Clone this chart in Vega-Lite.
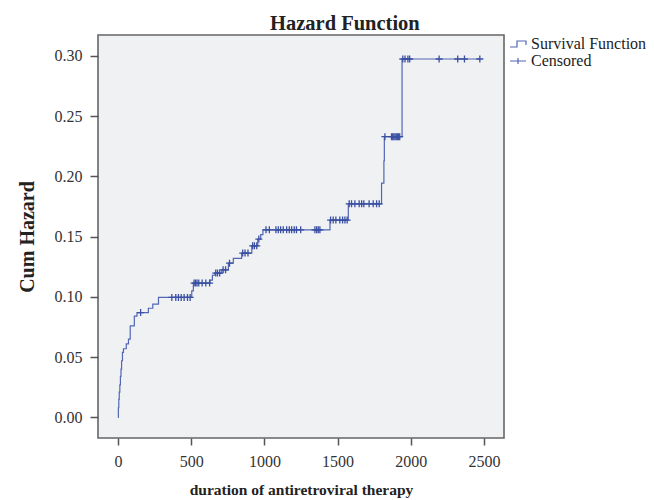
{
  "$schema": "https://vega.github.io/schema/vega-lite/v6.json",
  "width": 406,
  "height": 403,
  "autosize": "none",
  "padding": {"left": 98, "top": 35, "right": 150, "bottom": 62},
  "background": "white",
  "title": {
    "text": "Hazard Function",
    "font": "Liberation Serif",
    "fontSize": 20.5,
    "fontWeight": "bold",
    "color": "#222222",
    "anchor": "start",
    "frame": "group",
    "dx": 172,
    "offset": 6,
    "dy": 21,
    "baseline": "alphabetic"
  },
  "datasets": {
    "curve": [
      {"t": 0, "H": 0},
      {"t": 3, "H": 0.008},
      {"t": 6, "H": 0.015},
      {"t": 9, "H": 0.021},
      {"t": 13, "H": 0.027},
      {"t": 17, "H": 0.034},
      {"t": 21, "H": 0.040},
      {"t": 25, "H": 0.047},
      {"t": 31, "H": 0.054},
      {"t": 38, "H": 0.057},
      {"t": 57, "H": 0.061},
      {"t": 72, "H": 0.065},
      {"t": 84, "H": 0.076},
      {"t": 112, "H": 0.084},
      {"t": 130, "H": 0.087},
      {"t": 208, "H": 0.0906},
      {"t": 238, "H": 0.094},
      {"t": 277, "H": 0.0996},
      {"t": 504, "H": 0.105},
      {"t": 515, "H": 0.1115},
      {"t": 629, "H": 0.114},
      {"t": 645, "H": 0.118},
      {"t": 662, "H": 0.1198},
      {"t": 709, "H": 0.1225},
      {"t": 754, "H": 0.128},
      {"t": 788, "H": 0.132},
      {"t": 845, "H": 0.1364},
      {"t": 914, "H": 0.1424},
      {"t": 955, "H": 0.148},
      {"t": 975, "H": 0.1517},
      {"t": 990, "H": 0.1557},
      {"t": 1448, "H": 0.1638},
      {"t": 1573, "H": 0.1773},
      {"t": 1800, "H": 0.1944},
      {"t": 1816, "H": 0.213},
      {"t": 1819, "H": 0.233},
      {"t": 1940, "H": 0.2975},
      {"t": 2471, "H": 0.2975}
    ],
    "cens": [
      {"t": 155, "H": 0.087},
      {"t": 368, "H": 0.0996},
      {"t": 395, "H": 0.0996},
      {"t": 413, "H": 0.0996},
      {"t": 432, "H": 0.0996},
      {"t": 452, "H": 0.0996},
      {"t": 475, "H": 0.0996},
      {"t": 493, "H": 0.0996},
      {"t": 520, "H": 0.1115},
      {"t": 530, "H": 0.1115},
      {"t": 540, "H": 0.1115},
      {"t": 552, "H": 0.1115},
      {"t": 575, "H": 0.1115},
      {"t": 600, "H": 0.1115},
      {"t": 626, "H": 0.1115},
      {"t": 668, "H": 0.1198},
      {"t": 680, "H": 0.1198},
      {"t": 695, "H": 0.1198},
      {"t": 718, "H": 0.1225},
      {"t": 735, "H": 0.1225},
      {"t": 762, "H": 0.128},
      {"t": 852, "H": 0.1364},
      {"t": 868, "H": 0.1364},
      {"t": 888, "H": 0.1364},
      {"t": 920, "H": 0.1424},
      {"t": 932, "H": 0.1424},
      {"t": 948, "H": 0.1424},
      {"t": 962, "H": 0.148},
      {"t": 1011, "H": 0.1557},
      {"t": 1034, "H": 0.1557},
      {"t": 1079, "H": 0.1557},
      {"t": 1095, "H": 0.1557},
      {"t": 1111, "H": 0.1557},
      {"t": 1129, "H": 0.1557},
      {"t": 1152, "H": 0.1557},
      {"t": 1170, "H": 0.1557},
      {"t": 1186, "H": 0.1557},
      {"t": 1204, "H": 0.1557},
      {"t": 1219, "H": 0.1557},
      {"t": 1248, "H": 0.1557},
      {"t": 1345, "H": 0.1557},
      {"t": 1357, "H": 0.1557},
      {"t": 1368, "H": 0.1557},
      {"t": 1379, "H": 0.1557},
      {"t": 1452, "H": 0.1638},
      {"t": 1470, "H": 0.1638},
      {"t": 1488, "H": 0.1638},
      {"t": 1515, "H": 0.1638},
      {"t": 1534, "H": 0.1638},
      {"t": 1550, "H": 0.1638},
      {"t": 1565, "H": 0.1638},
      {"t": 1579, "H": 0.1773},
      {"t": 1595, "H": 0.1773},
      {"t": 1618, "H": 0.1773},
      {"t": 1647, "H": 0.1773},
      {"t": 1664, "H": 0.1773},
      {"t": 1679, "H": 0.1773},
      {"t": 1715, "H": 0.1773},
      {"t": 1743, "H": 0.1773},
      {"t": 1766, "H": 0.1773},
      {"t": 1784, "H": 0.1773},
      {"t": 1823, "H": 0.233},
      {"t": 1868, "H": 0.233},
      {"t": 1876, "H": 0.233},
      {"t": 1884, "H": 0.233},
      {"t": 1892, "H": 0.233},
      {"t": 1900, "H": 0.233},
      {"t": 1908, "H": 0.233},
      {"t": 1916, "H": 0.233},
      {"t": 1924, "H": 0.233},
      {"t": 1945, "H": 0.2975},
      {"t": 1960, "H": 0.2975},
      {"t": 1980, "H": 0.2975},
      {"t": 1992, "H": 0.2975},
      {"t": 2193, "H": 0.2975},
      {"t": 2320, "H": 0.2975},
      {"t": 2366, "H": 0.2975},
      {"t": 2471, "H": 0.2975}
    ],
    "legend": [
      {"series": "Survival Function"},
      {"series": "Censored"}
    ]
  },
  "encoding": {
    "x": {
      "field": "t",
      "type": "quantitative",
      "scale": {"domain": [-136, 2636], "nice": false, "zero": false},
      "axis": {
        "title": "duration of antiretroviral therapy",
        "values": [0, 500, 1000, 1500, 2000, 2500],
        "format": "d",
        "grid": false,
        "domain": false,
        "tickSize": 7,
        "tickWidth": 1.5,
        "tickColor": "#555555",
        "labelPadding": 8,
        "labelFontSize": 16,
        "titleFontSize": 15.5,
        "titlePadding": 13
      }
    },
    "y": {
      "field": "H",
      "type": "quantitative",
      "scale": {"domain": [-0.0171, 0.3174], "nice": false, "zero": false},
      "axis": {
        "title": "Cum Hazard",
        "values": [0, 0.05, 0.1, 0.15, 0.2, 0.25, 0.3],
        "format": ".2f",
        "grid": false,
        "domain": false,
        "tickSize": 8,
        "tickWidth": 1.5,
        "tickColor": "#555555",
        "labelPadding": 8,
        "labelFontSize": 16,
        "titleFontSize": 20,
        "titlePadding": 17
      }
    }
  },
  "layer": [
    {
      "data": {"name": "curve"},
      "mark": {"type": "line", "interpolate": "step-after", "color": "#5267b4", "strokeWidth": 1.2}
    },
    {
      "data": {"name": "cens"},
      "mark": {"type": "point", "shape": "M-1,0H1M0,-1V1", "size": 49, "filled": false, "stroke": "#3a50a3", "strokeWidth": 1.3, "opacity": 1}
    },
    {
      "data": {"name": "legend"},
      "transform": [{"filter": "false"}],
      "mark": {"type": "point", "filled": false},
      "encoding": {
        "x": {"field": "t", "type": "quantitative"},
        "y": {"field": "H", "type": "quantitative"},
        "shape": {
          "field": "series",
          "type": "nominal",
          "scale": {
            "domain": ["Survival Function", "Censored"],
            "range": ["M-1,0.375H-0.125V-0.375H1V0.125", "M-1,0H1M0,-0.375V0.375"]
          },
          "legend": {
            "title": null,
            "orient": "none",
            "legendX": 411,
            "legendY": 0,
            "padding": 0,
            "symbolSize": 256,
            "symbolStrokeColor": "#5267b4",
            "symbolFillColor": "transparent",
            "symbolStrokeWidth": 1.2,
            "symbolOpacity": 1,
            "labelFont": "Liberation Serif",
            "labelFontSize": 16,
            "labelColor": "#222222",
            "labelOffset": 4,
            "rowPadding": -6
          }
        }
      }
    }
  ],
  "config": {
    "view": {"fill": "#f0f1f3", "stroke": "#666666", "strokeWidth": 1.6},
    "font": "Liberation Serif",
    "axis": {
      "labelFont": "Liberation Serif",
      "titleFont": "Liberation Serif",
      "labelColor": "#333333",
      "titleColor": "#222222",
      "titleFontWeight": "bold"
    }
  }
}
